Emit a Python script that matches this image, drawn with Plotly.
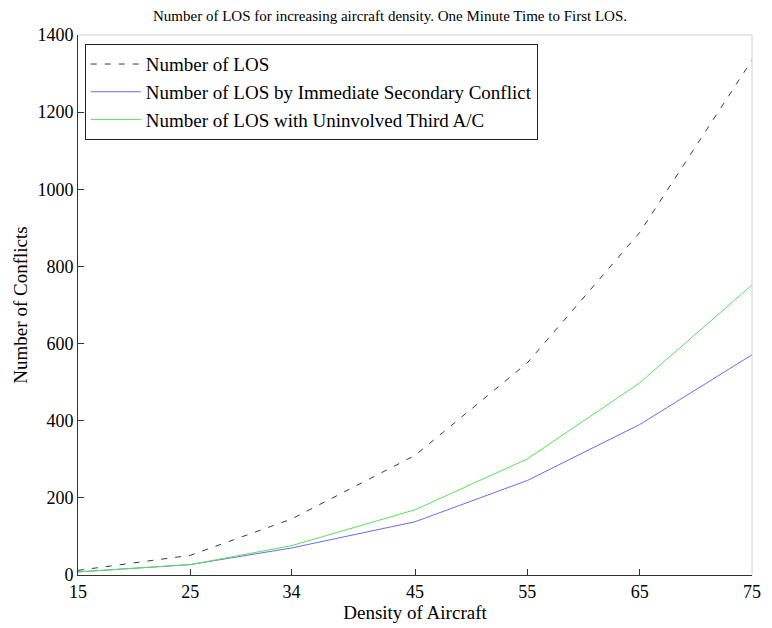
import plotly.graph_objects as go

density = [15, 25, 34, 45, 55, 65, 75]
los_total = [12, 51, 145, 310, 550, 888, 1335]
los_secondary = [8, 27, 70, 138, 245, 390, 571]
los_third = [8, 27, 76, 169, 301, 498, 752]
x_ticks = [15, 25, 34, 45, 55, 65, 75]
y_ticks = [0, 200, 400, 600, 800, 1000, 1200, 1400]

FONT = "Liberation Serif, Times New Roman, serif"

fig = go.Figure()
fig.add_trace(go.Scatter(x=density, y=los_total, mode="lines", name="Number of LOS",
                         line=dict(color="#3a3a3a", width=1, dash="6px,8px")))
fig.add_trace(go.Scatter(x=density, y=los_secondary, mode="lines",
                         name="Number of LOS by Immediate Secondary Conflict",
                         line=dict(color="#6b6bf0", width=1)))
fig.add_trace(go.Scatter(x=density, y=los_third, mode="lines",
                         name="Number of LOS with Uninvolved Third A/C",
                         line=dict(color="#5ae05a", width=1)))

fig.update_layout(
    width=764, height=620,
    margin=dict(l=70, r=11, t=27, b=50),
    paper_bgcolor="white", plot_bgcolor="white",
    font=dict(family=FONT, size=18, color="black"),
    title=dict(text="Number of LOS for increasing aircraft density. One Minute Time to First LOS.",
               x=0.5, xanchor="center", y=0.987, yanchor="middle",
               font=dict(family=FONT, size=15, color="black")),
    showlegend=True,
    legend=dict(x=0.01, y=0.983, xanchor="left", yanchor="top",
                bordercolor="#222", borderwidth=1, bgcolor="white",
                font=dict(family=FONT, size=19, color="black"),
                tracegroupgap=0, itemwidth=50),
    xaxis=dict(range=[15, 75], tickmode="array", tickvals=x_ticks,
               ticktext=[str(v) for v in x_ticks],
               ticks="inside", ticklen=6, tickcolor="#333", showgrid=False, zeroline=False,
               showline=True, linecolor="#333", linewidth=1,
               tickfont=dict(family=FONT, size=18),
               title=dict(text="Density of Aircraft", font=dict(family=FONT, size=19), standoff=2)),
    yaxis=dict(range=[0, 1400], tickmode="array", tickvals=y_ticks,
               ticktext=[str(v) for v in y_ticks],
               ticks="inside", ticklen=6, tickcolor="#333", showgrid=False, zeroline=False,
               showline=True, linecolor="#333", linewidth=1,
               tickfont=dict(family=FONT, size=18),
               title=dict(text="Number of Conflicts", font=dict(family=FONT, size=19), standoff=4)),
    shapes=[
        dict(type="line", xref="paper", yref="paper", x0=0, x1=1, y0=1, y1=1,
             line=dict(color="#d0d0d0", width=1)),
        dict(type="line", xref="paper", yref="paper", x0=1, x1=1, y0=0, y1=1,
             line=dict(color="#d0d0d0", width=1)),
    ],
)

fig.write_html("out.html")
